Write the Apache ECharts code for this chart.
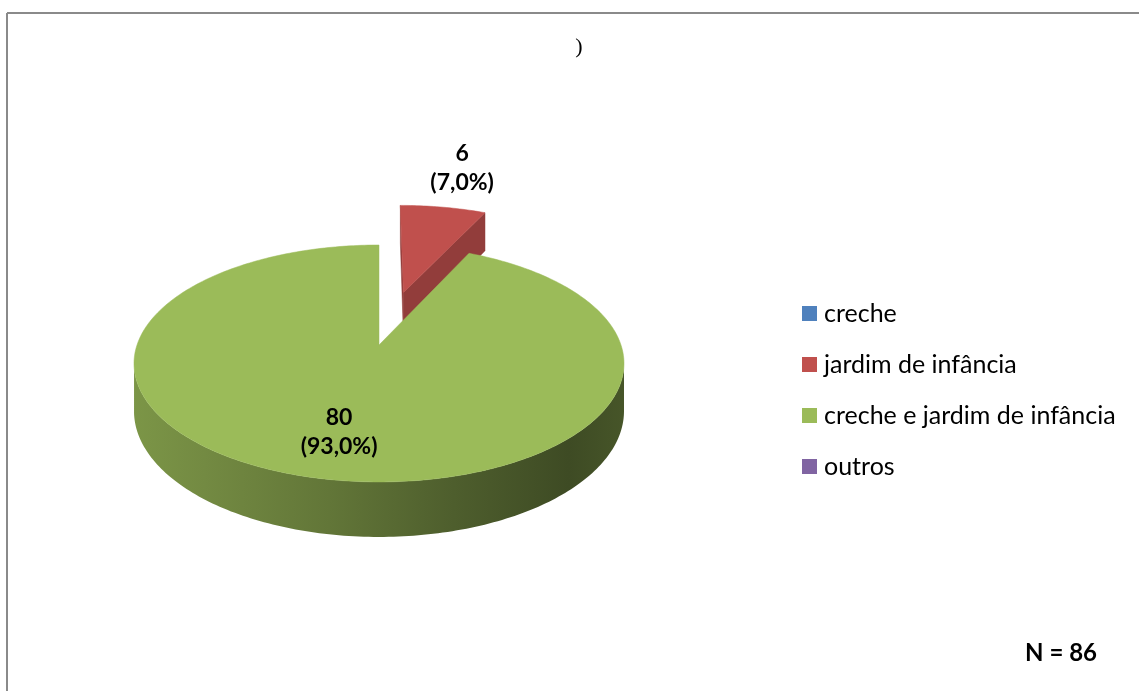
<!DOCTYPE html>
<html>
<head>
<meta charset="utf-8">
<script src="https://cdn.jsdelivr.net/npm/echarts@6/dist/echarts.min.js"></script>
<style>
  html, body { margin: 0; padding: 0; background: #ffffff; }
  #chart { width: 1139px; height: 691px; }
</style>
</head>
<body>
<div id="chart"></div>
<script>
// ---- data ----
const categories = ['creche', 'jardim de infância', 'creche e jardim de infância', 'outros'];
const counts = [0, 6, 80, 0];
const sampleSize = 86;
const colors = ['#4f81bd', '#c0504d', '#9bbb59', '#8064a2'];

const total = counts.reduce((a, b) => a + b, 0);
// slices pulled away from the centre (fraction of the radius)
const pulledOut = { 'jardim de infância': 0.5 };

const FONT = 'Lato';

// ---- perspective view of the tilted disc ----
const view = { cx: 379, cy: 345, A: 242, B: 115.6, H: 46.4, k: 0.156 };
function project(u, v, down) {
  const w = 1 + view.k * v;
  return [view.cx + view.A * u / w, view.cy + (-view.B * v + (down ? view.H : 0)) / w];
}
const camera = [0, -1 / view.k];

function shade(hex, f) {
  const n = parseInt(hex.slice(1), 16);
  const r = Math.round(((n >> 16) & 255) * f);
  const g = Math.round(((n >> 8) & 255) * f);
  const b = Math.round((n & 255) * f);
  return 'rgb(' + r + ',' + g + ',' + b + ')';
}

function sideGradient(hex) {
  return new echarts.graphic.LinearGradient(
    view.cx - view.A * 1.03, 0, view.cx + view.A * 1.03, 0,
    [
      { offset: 0.00, color: shade(hex, 0.80) },
      { offset: 0.15, color: shade(hex, 0.74) },
      { offset: 0.40, color: shade(hex, 0.63) },
      { offset: 0.65, color: shade(hex, 0.50) },
      { offset: 0.88, color: shade(hex, 0.40) },
      { offset: 1.00, color: shade(hex, 0.46) }
    ],
    true
  );
}

function percentText(v) {
  return (v / total * 100).toFixed(1).replace('.', ',') + '%';
}

function renderSlice(params, api) {
  const i = params.dataIndex;
  const val = api.value(0);
  if (!val) return null;

  let before = 0;
  for (let j = 0; j < i; j++) before += counts[j];
  const a0 = before / total * Math.PI * 2;
  const a1 = (before + val) / total * Math.PI * 2;
  const mid = (a0 + a1) / 2;
  const e = pulledOut[categories[i]] || 0;
  const ou = e * Math.sin(mid), ov = e * Math.cos(mid);

  const steps = Math.max(2, Math.ceil((a1 - a0) / (Math.PI / 180)));
  const topArc = [], botArc = [], angles = [];
  for (let s = 0; s <= steps; s++) {
    const t = a0 + (a1 - a0) * s / steps;
    angles.push(t);
    const u = ou + Math.sin(t), v = ov + Math.cos(t);
    topArc.push(project(u, v, false));
    botArc.push(project(u, v, true));
  }
  const apexT = project(ou, ov, false);
  const apexB = project(ou, ov, true);

  const color = colors[i];
  const depth = ov + Math.cos(mid) * 0.5;
  const base = Math.round((4 - depth) * 100) * 4;
  const children = [];

  // outer curved wall, only where it faces the viewer
  const visible = angles.map(t => {
    const px = ou + Math.sin(t), py = ov + Math.cos(t);
    return (camera[0] - px) * Math.sin(t) + (camera[1] - py) * Math.cos(t) > 0;
  });
  let run = [];
  const flush = () => {
    if (run.length > 1) {
      const pts = run.map(s => topArc[s]).concat(run.slice().reverse().map(s => botArc[s]));
      children.push({
        type: 'polygon', shape: { points: pts }, z2: base,
        style: { fill: sideGradient(color), stroke: null }
      });
    }
    run = [];
  };
  visible.forEach((ok, s) => { if (ok) run.push(s); else flush(); });
  flush();

  // radial cut walls
  [[a0, 0, -1], [a1, steps, 1]].forEach(([t, s, sign]) => {
    const nx = sign * Math.cos(t), ny = -sign * Math.sin(t);
    const faces = (camera[0] - ou) * nx + (camera[1] - ov) * ny > 0;
    if (!faces || val === total) return;
    children.push({
      type: 'polygon',
      shape: { points: [apexT, topArc[s], botArc[s], apexB] },
      z2: base + 1,
      style: { fill: shade(color, 0.76), stroke: shade(color, 0.76), lineWidth: 0.5 }
    });
  });

  // top face
  children.push({
    type: 'polygon',
    shape: { points: [apexT].concat(topArc) },
    z2: base + 2,
    style: { fill: color, stroke: color, lineWidth: 0.5 }
  });

  // data label: count and share
  const big = val / total > 0.5;
  const r = big ? 0.68 : 1 + e + 0.58;
  const lp = project(Math.sin(mid) * r, Math.cos(mid) * r, false);
  children.push({
    type: 'text', x: lp[0], y: lp[1] + 1, z2: 100000,
    style: {
      text: val + '\n(' + percentText(val) + ')',
      align: 'center', verticalAlign: 'middle',
      fontFamily: FONT, fontWeight: 'bold', fontSize: 23, lineHeight: 29,
      fill: '#000000'
    }
  });

  return { type: 'group', children: children };
}

const chart = echarts.init(document.getElementById('chart'), null, { renderer: 'canvas' });
chart.setOption({
  animation: false,
  backgroundColor: '#ffffff',
  legend: {
    data: categories,
    orient: 'vertical',
    left: 802,
    top: 301,
    padding: 0,
    icon: 'rect',
    itemWidth: 15,
    itemHeight: 15,
    itemGap: 26,
    selectedMode: false,
    textStyle: { fontFamily: FONT, fontSize: 25, lineHeight: 25, color: '#000000', padding: [0, 0, 0, 2] }
  },
  graphic: [
    { type: 'line', shape: { x1: 7, y1: 13, x2: 1139, y2: 13 }, style: { stroke: '#8a8a8a', lineWidth: 2 } },
    { type: 'line', shape: { x1: 7, y1: 13, x2: 7, y2: 691 }, style: { stroke: '#8a8a8a', lineWidth: 2 } },
    {
      type: 'text', x: 579, y: 47,
      style: { text: ')', fontFamily: 'Liberation Serif', fontSize: 22, fill: '#000', align: 'center', verticalAlign: 'middle' }
    },
    {
      type: 'text', x: 1097, y: 653,
      style: { text: 'N = ' + sampleSize, fontFamily: FONT, fontWeight: 'bold', fontSize: 24, fill: '#000', align: 'right', verticalAlign: 'middle' }
    }
  ],
  series: [
    {
      type: 'custom',
      name: 'respostas',
      coordinateSystem: 'none',
      silent: true,
      renderItem: renderSlice,
      data: counts.map(v => [v])
    },
    {
      // carries the category colours for the legend
      type: 'pie',
      name: 'legenda',
      silent: true,
      radius: [0, 0],
      center: [-50, -50],
      label: { show: false },
      labelLine: { show: false },
      data: categories.map((c, i) => ({ name: c, value: counts[i], itemStyle: { color: colors[i] } }))
    }
  ]
});
</script>
</body>
</html>
